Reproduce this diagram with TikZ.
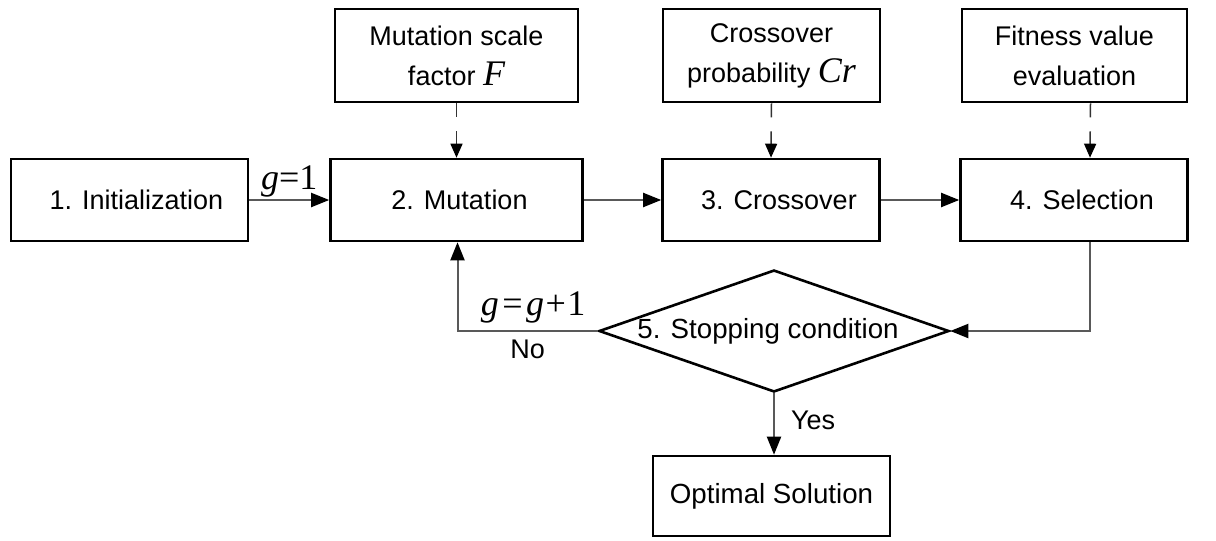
\documentclass[tikz,border=0pt]{standalone}
\usepackage{fontspec}
\setmainfont{Liberation Sans}
\newfontfamily\tms{Liberation Serif}
\usetikzlibrary{arrows.meta,shapes.geometric}
\newcommand\mth[1]{{\tms\itshape\fontsize{36}{36}\selectfont #1}}
\newcommand\mrm[1]{{\tms\upshape\fontsize{36}{36}\selectfont #1}}
\begin{document}
\begin{tikzpicture}[x=1pt,y=-1pt,
  every node/.style={font=\fontsize{27}{40}\selectfont, inner sep=0pt},
  big/.style={font=\fontsize{27.7}{40}\selectfont},
  box/.style={draw=black, line width=2.6pt, align=center},
  conn/.style={draw=black!65, line width=2pt, -{Triangle[length=18pt,width=14pt,color=black]}},
  dconn/.style={draw=black!80, line width=1.5pt, dash pattern=on 14pt off 14pt, -{Triangle[length=14pt,width=12pt,color=black]}},
  lbl/.style={inner sep=2pt}]
\useasboundingbox (0,0) rectangle (1216,541);
% main row
\node[box, minimum width=237pt, minimum height=82pt] (init) at (129.5,200) {\hspace*{14pt}1. Initialization};
\node[box, minimum width=252pt, minimum height=82pt] (mut) at (456.5,200) {\hspace*{6pt}2. Mutation};
\node[box, minimum width=217pt, minimum height=82pt] (cross) at (771,200) {\hspace*{16pt}3. Crossover};
\node[box, minimum width=227pt, minimum height=82pt] (sel) at (1074,200) {\hspace*{16pt}4. Selection};
% top row
\node[box, minimum width=243pt, minimum height=93pt] (msf) at (456.5,55.5) {Mutation scale\\factor \mth{F}};
\node[box, minimum width=217pt, minimum height=93pt] (cp) at (771.5,55.5) {Crossover\\probability \mth{Cr}};
\node[box, minimum width=225pt, minimum height=93pt] (fit) at (1074.5,55.5) {Fitness value\\evaluation};
% decision
\node[diamond, draw=black, line width=2.6pt, minimum width=350pt, minimum height=122pt, aspect=2.87] (dia) at (774,331) {};
\node[big] (diatxt) at ([xshift=-6pt]dia.center) {5. Stopping condition};
% result
\node[box, big, minimum width=237pt, minimum height=80pt] (opt) at (771.5,496) {Optimal Solution};
% connectors
\draw[conn] (init.east) -- (mut.west) node[midway, above, lbl] {\mth{g}\mrm{=1}};
\draw[conn] (mut.east) -- (cross.west);
\draw[conn] (cross.east) -- (sel.west);
\draw[dconn] (msf.south) -- (mut.north);
\draw[dconn] (cp.south) -- (cross.north);
\draw[dconn] ([xshift=16pt]fit.south) -- ([xshift=16pt]sel.north);
\draw[conn] ([xshift=16pt]sel.south) |- (dia.east);
\draw[conn] (dia.west) -| ([xshift=1pt]mut.south)
  node[pos=0.23, above, lbl, yshift=5pt] {\mth{g}\mrm{\kern3.5pt=\kern3.5pt}\mth{g}\mrm{\kern1.5pt+\kern1.5pt1}}
  node[pos=0.25, below, lbl, yshift=-6pt] {No};
\draw[conn] (dia.south) -- (dia.south |- opt.north) node[midway, right, lbl, xshift=14pt, yshift=4pt] {Yes};
\end{tikzpicture}
\end{document}
